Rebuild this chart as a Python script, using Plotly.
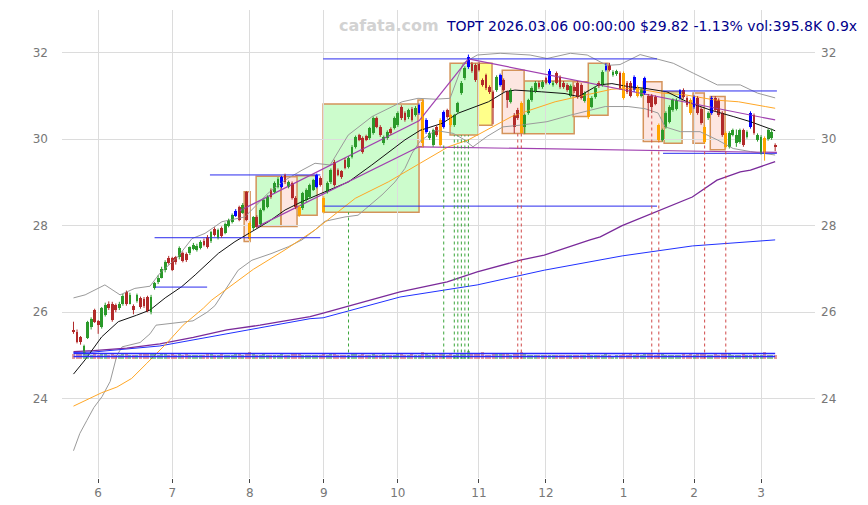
import plotly.graph_objects as go

# ---------------- data ----------------
opens = [25.60,25.55,25.42,25.10,25.40,25.66,26.05,25.80,25.66,25.94,
26.20,26.20,26.17,26.10,26.19,26.47,26.20,26.15,26.27,26.33,
26.30,26.35,26.00,26.56,26.70,26.80,26.97,27.25,27.25,27.27,
27.27,27.37,27.35,27.37,27.46,27.44,27.48,27.65,27.74,27.64,
27.92,27.71,27.94,27.83,28.00,28.08,28.22,28.43,28.30,28.78,
28.06,27.94,28.20,28.04,28.36,28.43,28.82,28.78,28.90,28.90,
29.17,28.90,28.98,28.64,28.43,28.40,28.59,28.65,28.82,28.90,
29.10,28.64,28.78,29.00,29.47,29.28,29.25,29.52,29.35,29.58,
29.82,30.09,30.02,30.07,30.02,30.14,30.48,30.28,29.90,30.02,
30.23,30.25,30.32,30.74,30.60,30.50,30.70,30.55,30.60,30.85,
30.16,30.02,29.86,30.28,30.44,30.28,30.67,30.55,30.32,30.62,
31.06,31.40,31.66,31.74,31.70,31.74,31.36,31.47,31.20,31.08,
31.13,31.25,31.36,31.08,30.86,30.55,30.67,30.83,30.28,30.60,
30.90,31.10,31.30,31.20,31.40,31.30,31.25,31.52,31.43,31.30,
31.25,31.00,31.20,31.30,31.25,30.88,30.95,30.75,30.97,31.30,
31.25,31.60,31.70,31.48,31.50,31.52,31.52,31.30,31.30,31.13,
31.20,31.00,31.06,31.00,31.00,30.97,30.32,29.98,30.28,30.40,
30.67,30.70,30.95,31.13,30.95,30.90,30.74,30.95,30.70,30.28,
30.48,30.60,30.95,30.90,30.60,30.14,29.82,30.10,29.90,29.93,
30.20,30.05,30.28,30.55,29.98,29.68,30.02,30.00,30.02,29.86]

closes = [25.55,25.32,25.30,25.22,25.78,25.84,25.77,25.70,26.10,26.17,
26.10,25.82,26.05,26.20,26.37,26.20,26.40,26.05,26.40,26.12,
26.15,26.03,26.35,26.67,26.80,27.00,27.15,27.14,26.97,27.15,
27.48,27.18,27.20,27.50,27.55,27.53,27.62,27.55,27.50,27.85,
27.78,27.90,27.76,28.04,28.13,28.25,28.34,28.13,28.48,28.13,
27.70,28.20,27.96,28.36,28.59,28.66,28.66,28.98,29.08,29.12,
29.00,29.00,28.64,28.43,28.24,28.75,28.82,28.94,29.05,29.17,
28.94,28.32,28.98,29.28,28.94,29.17,29.12,29.33,29.56,29.82,
30.05,29.98,29.70,29.98,30.25,30.48,30.28,30.09,30.05,30.16,
30.14,30.48,30.60,30.48,30.44,30.67,30.44,30.72,30.78,29.90,
30.44,30.14,30.20,30.09,29.86,30.62,30.51,30.32,30.55,30.83,
31.30,31.64,31.90,31.57,31.36,31.60,31.25,31.17,31.08,30.72,
31.43,31.47,31.13,30.90,31.13,30.28,30.48,30.14,30.55,30.90,
31.18,31.30,31.20,31.32,31.30,31.58,31.30,31.30,31.20,31.20,
31.13,31.22,31.10,30.97,30.95,31.06,30.50,30.95,31.18,31.22,
31.55,31.68,31.60,31.55,31.56,31.18,30.95,31.08,31.00,31.43,
31.00,31.15,31.40,30.84,30.74,30.82,29.97,30.20,30.60,30.74,
30.90,30.90,31.13,30.97,30.78,30.60,30.97,30.60,30.37,29.93,
30.60,30.95,30.67,30.55,30.09,29.82,30.14,30.20,30.10,30.20,
29.86,30.16,30.60,30.14,30.09,30.05,29.68,30.20,30.16,29.82]

highs = [25.78,25.60,25.45,25.25,25.80,25.88,26.08,25.82,26.12,26.22,
26.25,26.24,26.20,26.24,26.42,26.50,26.45,26.18,26.43,26.36,
26.35,26.38,26.40,26.70,26.85,27.05,27.20,27.30,27.28,27.30,
27.52,27.40,27.38,27.52,27.60,27.58,27.66,27.70,27.78,27.88,
27.96,27.93,27.98,28.07,28.16,28.28,28.38,28.46,28.52,28.80,
28.10,28.22,28.24,28.40,28.62,28.70,28.86,29.02,29.12,29.15,
29.20,29.04,29.02,28.68,28.47,28.78,28.86,28.97,29.08,29.20,
29.14,28.68,29.02,29.32,29.52,29.32,29.28,29.56,29.60,29.86,
30.08,30.12,30.06,30.10,30.28,30.52,30.52,30.32,30.08,30.20,
30.27,30.52,30.64,30.78,30.64,30.70,30.74,30.76,30.82,30.92,
30.48,30.18,30.24,30.32,30.48,30.66,30.70,30.58,30.58,30.86,
31.34,31.68,31.95,31.78,31.74,31.78,31.40,31.51,31.24,31.12,
31.47,31.51,31.40,31.12,31.17,30.60,30.72,30.87,30.58,30.93,
31.22,31.34,31.34,31.36,31.44,31.62,31.34,31.56,31.47,31.34,
31.29,31.26,31.24,31.34,31.29,31.10,30.99,30.99,31.22,31.34,
31.59,31.75,31.76,31.59,31.60,31.56,31.56,31.34,31.34,31.47,
31.24,31.19,31.44,31.04,31.04,31.01,30.36,30.24,30.64,30.78,
30.94,30.94,31.15,31.17,30.99,30.94,31.01,30.99,30.74,30.32,
30.64,30.99,30.99,30.94,30.64,30.18,30.18,30.24,30.22,30.24,
30.24,30.20,30.64,30.59,30.13,30.09,30.06,30.24,30.24,29.90]

lows = [25.50,25.28,25.25,25.02,25.38,25.60,25.75,25.50,25.62,25.90,
26.05,25.78,26.00,26.05,26.15,26.15,26.18,25.95,26.22,26.08,
26.10,26.00,25.95,26.52,26.65,26.78,26.92,27.10,26.95,27.10,
27.22,27.15,27.16,27.32,27.43,27.40,27.45,27.52,27.47,27.60,
27.75,27.68,27.72,27.80,27.96,28.05,28.20,28.10,28.27,28.10,
27.65,27.90,27.94,28.00,28.33,28.40,28.62,28.75,28.86,28.86,
28.96,28.86,28.60,28.38,28.20,28.36,28.55,28.62,28.80,28.86,
28.90,28.28,28.74,28.96,28.90,29.14,29.08,29.30,29.32,29.55,
29.78,29.95,29.66,29.95,29.98,30.10,30.25,30.05,29.86,29.98,
30.10,30.22,30.28,30.44,30.40,30.46,30.40,30.52,30.56,29.82,
30.12,29.98,29.82,30.05,29.82,30.24,30.47,30.28,30.28,30.58,
31.02,31.36,31.62,31.53,31.32,31.56,31.21,31.13,31.04,30.34,
31.09,31.21,31.09,30.72,30.82,30.13,30.44,30.13,30.12,30.56,
30.86,31.06,31.16,31.16,31.26,31.26,31.21,31.26,31.16,31.16,
31.09,30.96,31.06,30.93,30.91,30.84,30.46,30.71,30.93,31.18,
31.21,31.56,31.56,31.44,31.46,31.14,30.91,31.04,30.96,31.09,
30.96,30.96,31.02,30.50,30.60,30.78,29.94,29.94,30.24,30.36,
30.63,30.66,30.91,30.93,30.74,30.56,30.70,30.56,30.33,29.89,
30.44,30.56,30.63,30.51,30.05,29.78,29.78,30.06,29.82,29.89,
29.82,30.01,30.24,30.10,29.94,29.64,29.50,29.96,29.98,29.72]

volumes_k = [520,610,480,700,560,430,510,390,620,450,380,540,410,360,470,530,350,440,390,500,
460,520,610,580,430,470,520,380,560,410,450,400,470,380,420,360,440,410,520,480,
430,390,460,400,370,420,480,530,390,650,720,480,430,410,450,390,420,380,400,460,
430,360,510,470,560,420,390,380,400,430,380,610,420,450,560,380,350,430,410,460,
480,430,520,380,420,470,430,410,450,390,360,420,460,500,420,380,450,420,430,680,
560,420,470,440,610,500,420,530,440,520,640,590,780,560,520,480,690,430,410,560,
470,520,480,560,420,610,470,720,450,420,440,410,380,360,400,430,350,400,380,360,
370,390,340,420,430,380,520,360,400,340,420,450,380,330,350,420,540,440,460,430,
480,380,450,480,500,430,620,460,420,400,410,380,430,450,420,520,440,470,500,560,
420,430,460,440,520,580,470,380,410,400,450,380,430,460,390,420,690,410,400,395.8]

blue_idx = [46, 59, 69, 98, 100, 105, 112, 121, 135, 151, 159, 162, 172, 176, 181, 192]
orange_idx = [50, 64, 71, 99, 104, 107, 127, 146, 156, 160, 166, 175, 179, 185, 196]

month_pos = [7, 28, 50, 71, 92, 115, 134, 156, 176, 195]
month_lbl = ['6', '7', '8', '9', '10', '11', '12', '1', '2', '3']
price_ticks = [24, 26, 28, 30, 32]

# moving averages / bands, sampled along the bar index
ma_short_x = [0,3.3,8,12.7,17.9,21.7,26,30.7,34.5,36.4,41.1,45.8,50.6,55.3,60,64.7,71.3,78,84.6,90.3,94,98.3,104.5,109.2,113.9,117.7,122.4,125.2,132.8,139.4,143.2,148.9,152.7,157.4,162.1,168.3,174,180.6,187.1,192,198.4,199]
ma_short_y = [24.57,24.9,25.43,25.78,25.93,26.05,26.33,26.59,26.86,27.01,27.36,27.63,27.86,28.09,28.36,28.55,28.78,29.01,29.4,29.75,29.98,30.2,30.36,30.6,30.75,30.86,31.09,31.13,31.09,31.05,30.98,31.25,31.28,31.21,31.17,31.09,30.86,30.67,30.52,30.4,30.21,30.19]
ma_mid_x = [0,8,12.3,16.5,20.8,26.4,31.1,36.8,39.2,51,60,68.5,79.9,89.3,98.3,106.3,112,118.6,124.3,128.1,136.6,143.2,152.7,156.5,162.1,166.9,173.5,182,188.6,196.2,199]
ma_mid_y = [23.83,24.14,24.27,24.47,24.82,25.28,25.7,26.09,26.28,26.99,27.44,27.9,28.63,29.01,29.44,29.82,29.98,30.28,30.52,30.63,30.86,30.98,31.15,31.17,31.13,31.06,31.02,30.9,30.86,30.75,30.71]
ma_long_x = [0,5.6,15.1,24.5,34,43.5,52.9,67.1,70.8,92.6,106,114.5,126.7,133.5,146.5,149.4,155.6,166.4,175.5,182.5,189.1,192,199]
ma_long_y = [25.09,25.11,25.17,25.27,25.42,25.59,25.7,25.9,25.98,26.47,26.7,26.93,27.2,27.32,27.67,27.74,28.0,28.36,28.66,29.05,29.24,29.28,29.48]
ma_vlong_x = [0,5.6,24.5,43.5,67.1,70.8,92.6,114.5,133.5,155.6,175.5,199]
ma_vlong_y = [25.07,25.08,25.22,25.5,25.85,25.87,26.35,26.63,26.97,27.3,27.53,27.67]
band_up_x = [0,3.3,8.9,13.2,17.4,21.7,24.5,29.6,33.6,37.3,42.1,48.6,55.2,60,64.8,68.5,72.8,77.9,84.7,93.2,97.7,102.6,106.8,110.5,114.5,121,129.5,134.3,140.9,145.7,151.3,155,160.7,165.5,170.1,175.8,182.6,189.1,194,199]
band_up_y = [26.33,26.4,26.63,26.4,26.55,26.6,26.9,27.28,27.7,27.82,28.09,28.2,28.75,29.05,29.28,29.44,29.4,30.09,30.52,30.86,30.94,30.92,30.94,31.75,31.94,31.98,31.94,31.86,31.98,31.94,31.7,31.72,31.95,31.85,31.75,31.52,31.25,31.25,31.06,30.95]
band_lo_x = [0,1.8,3.8,5.8,8.1,10.4,12.3,13.8,18.9,21.7,23.4,29.1,33.9,37.9,40.1,46.7,50.6,56.3,60.9,64.8,68.5,71.3,77,80.7,87.5,91.2,94,96,98.3,102.6,107.7,110.5,113.3,117.3,121.8,126.7,134.3,140.9,146.5,150.8,157.3,162.1,165.8,167.8,172.1,177.7,182.6,187.1,192,199]
band_lo_y = [22.8,23.2,23.5,23.8,24.05,24.4,25.0,25.2,25.3,25.5,25.7,25.75,25.8,26.0,26.15,26.97,27.2,27.36,27.51,27.67,27.9,28.1,28.2,28.24,28.71,29.01,29.32,29.67,29.95,30.2,30.13,30.0,29.82,30.06,30.28,30.32,30.4,30.55,30.67,30.75,30.75,30.7,30.6,30.28,30.17,30.17,29.98,29.78,29.71,29.63]

vol_line_x = [0, 100, 199]
vol_line_upper_k = [560, 565, 555]
vol_line_lower_k = [230, 235, 230]

# consolidation boxes
green_x0 = [51.8, 63.1, 70.8, 106.8, 127.8, 146.0, 167.5]
green_x1 = [58.8, 69.1, 98.0, 114.8, 142.0, 151.6, 172.6]
green_lo = [27.98, 28.24, 28.31, 30.09, 30.12, 30.55, 29.90]
green_hi = [29.14, 29.15, 30.81, 31.75, 31.34, 31.75, 31.09]
pink_x0 = [48.4, 58.9, 97.7, 121.6, 141.7, 161.6, 175.7, 180.6]
pink_x1 = [50.1, 63.4, 99.2, 127.8, 146.0, 166.9, 178.9, 184.8]
pink_lo = [27.63, 27.98, 29.82, 30.13, 30.52, 29.94, 29.90, 29.75]
pink_hi = [28.78, 29.13, 30.90, 31.59, 31.32, 31.32, 31.06, 30.98]
yellow_x0 = [114.8]
yellow_x1 = [118.7]
yellow_lo = [30.32]
yellow_hi = [31.75]

# horizontal levels
level_x0 = [23.1, 23.0, 38.7, 70.8, 70.8, 167.2, 167.2]
level_x1 = [37.9, 70.0, 70.0, 165.5, 165.5, 199.5, 199.5]
level_y = [26.58, 27.72, 29.17, 31.85, 28.45, 31.11, 29.67]

# trend lines
trend_x0 = [47, 98, 112, 52, 98]
trend_y0 = [28.34, 30.42, 31.85, 27.97, 29.82]
trend_x1 = [98, 112, 199, 98, 199.5]
trend_y1 = [30.42, 31.85, 30.44, 29.82, 29.69]

# signal markers (dotted verticals)
sig_green_x = [78, 105, 108, 109, 110, 111, 112]
sig_green_top = [28.31, 29.86, 30.09, 30.09, 30.09, 30.09, 30.09]
sig_red_x = [126, 127, 164, 166, 179, 185]
sig_red_top = [30.13, 30.13, 30.60, 29.97, 29.93, 29.78]
sig_base = 24.93

title_text = "TOPT 2026.03.06 00:00:00 $29.82 -1.13% vol:395.8K 0.9x"
watermark = "cafata.com"

# ---------------- styling ----------------
# the page body adds an 8px offset, so the figure is 8px smaller and shifted
OFF = 8
W, H = 868 - OFF, 505 - OFF
ML, MR, MT, MB = 62 - OFF, 53, 10 - OFF, 27
PW, PH = W - ML - MR, H - MT - MB
Y_RANGE = [22.17, 32.98]
X_RANGE = [-3.26, 210.3]

GREEN = '#2b9a2b'
RED = '#b22a2a'
BLUE = '#0000ff'
ORANGE = '#ffa500'
EDGE = '#d4935a'

n = len(closes)
xs = list(range(n))
colors = []
for i in xs:
    if i in blue_idx:
        colors.append(BLUE)
    elif i in orange_idx:
        colors.append(ORANGE)
    elif closes[i] >= opens[i]:
        colors.append(GREEN)
    else:
        colors.append(RED)

fig = go.Figure()

# volume (secondary axis, squeezed into a thin strip)
vol_colors = ['rgba(40,150,40,0.5)' if closes[i] >= opens[i] else 'rgba(200,60,60,0.5)' for i in xs]
fig.add_trace(go.Bar(x=xs, y=[v * 1000 for v in volumes_k], yaxis='y2', width=0.85,
                     marker=dict(color=vol_colors, line=dict(width=0)), hoverinfo='skip'))
fig.add_trace(go.Scatter(x=vol_line_x, y=[v * 1000 for v in vol_line_upper_k], yaxis='y2', mode='lines',
                         line=dict(color='#2a2aff', width=1.5), hoverinfo='skip'))
fig.add_trace(go.Scatter(x=vol_line_x, y=[v * 1000 for v in vol_line_lower_k], yaxis='y2', mode='lines',
                         line=dict(color='#2a2aff', width=1.5), hoverinfo='skip'))

def line(xv, yv, color, width, dash=None):
    fig.add_trace(go.Scatter(x=xv, y=yv, mode='lines', hoverinfo='skip',
                             line=dict(color=color, width=width, dash=dash)))

line(band_up_x, band_up_y, '#9a9a9a', 1)
line(band_lo_x, band_lo_y, '#9a9a9a', 1)
line(ma_vlong_x, ma_vlong_y, '#2030ff', 1)
line(ma_long_x, ma_long_y, '#7a2a9a', 1.3)
line(ma_mid_x, ma_mid_y, '#ffa726', 1)
line(ma_short_x, ma_short_y, '#111111', 1)

for a, b, y in zip(level_x0, level_x1, level_y):
    line([a, b], [y, y], '#2a2aee', 1)
for a, ya, b, yb in zip(trend_x0, trend_y0, trend_x1, trend_y1):
    line([a, b], [ya, yb], '#a040b0', 1.2)

for xv, top in zip(sig_green_x, sig_green_top):
    line([xv, xv], [sig_base, top], '#3aa53a', 1, 'dot')
for xv, top in zip(sig_red_x, sig_red_top):
    line([xv, xv], [sig_base, top], '#d04848', 1, 'dot')

# candle wicks grouped by colour
for col in [GREEN, RED, BLUE, ORANGE]:
    wx, wy = [], []
    for i in xs:
        if colors[i] == col:
            wx += [i, i, None]
            wy += [lows[i], highs[i], None]
    fig.add_trace(go.Scatter(x=wx, y=wy, mode='lines', line=dict(color=col, width=1), hoverinfo='skip'))

# candle bodies
fig.add_trace(go.Bar(x=xs, base=[min(o, c) for o, c in zip(opens, closes)],
                     y=[max(abs(c - o), 0.02) for o, c in zip(opens, closes)],
                     width=0.8, marker=dict(color=colors, line=dict(width=0)), hoverinfo='skip'))

shapes = []
def boxes(x0s, x1s, los, his, fill):
    for a, b, lo, hi in zip(x0s, x1s, los, his):
        shapes.append(dict(type='rect', xref='x', yref='y', x0=a, x1=b, y0=lo, y1=hi,
                           fillcolor=fill, line=dict(color=EDGE, width=1.5), layer='below'))
boxes(green_x0, green_x1, green_lo, green_hi, '#ccfccc')
boxes(pink_x0, pink_x1, pink_lo, pink_hi, '#fde6e1')
boxes(yellow_x0, yellow_x1, yellow_lo, yellow_hi, '#ffff8a')

# volume axis range: zero at page y 358.5, 9 px per 1,000K
f0 = (H - MB - (358.5 - OFF)) / PH
per_m = 9.0 / PH
v_lo = -f0 / per_m * 1e6
v_hi = (1 - f0) / per_m * 1e6

def px(xp):
    return (xp - OFF - ML) / PW

def py(yp):
    return (H - MB - (yp - OFF)) / PH

tickfont = dict(family='DejaVu Sans', size=12, color='#777777')
fig.update_layout(
    width=W, height=H, margin=dict(l=ML, r=MR, t=MT, b=MB),
    paper_bgcolor='white', plot_bgcolor='rgba(0,0,0,0)',
    showlegend=False, barmode='overlay', bargap=0,
    shapes=shapes,
    xaxis=dict(range=X_RANGE, tickmode='array', tickvals=month_pos, ticktext=month_lbl,
               showgrid=True, gridcolor='#dcdcdc', gridwidth=1, zeroline=False, showline=False,
               ticks='outside', ticklen=4, tickcolor='#444444', tickfont=tickfont),
    yaxis=dict(range=Y_RANGE, tickmode='array', tickvals=price_ticks,
               showgrid=True, gridcolor='#dcdcdc', gridwidth=1, zeroline=False, showline=False,
               ticks='', ticklabelstandoff=13, tickfont=tickfont, automargin=False),
    yaxis2=dict(range=[v_lo, v_hi], overlaying='y', visible=False, showgrid=False),
    yaxis3=dict(range=Y_RANGE, overlaying='y', side='right', tickmode='array', tickvals=price_ticks,
                showgrid=False, zeroline=False, showline=False, ticks='', ticklabelstandoff=5,
                tickfont=tickfont, automargin=False),
    annotations=[
        dict(text=title_text, xref='paper', yref='paper', x=px(859), y=py(26),
             xanchor='right', yanchor='middle', showarrow=False,
             font=dict(family='DejaVu Sans', size=14, color='#00008b')),
        dict(text='<b>' + watermark + '</b>', xref='paper', yref='paper', x=px(389),
             y=py(25), xanchor='center', yanchor='middle', showarrow=False,
             font=dict(family='DejaVu Sans', size=16, color='#d2d2d2')),
    ],
)
fig.add_trace(go.Scatter(x=[X_RANGE[0]], y=[Y_RANGE[0]], yaxis='y3', mode='markers',
                         marker=dict(opacity=0), hoverinfo='skip'))

fig.write_html("out.html")
